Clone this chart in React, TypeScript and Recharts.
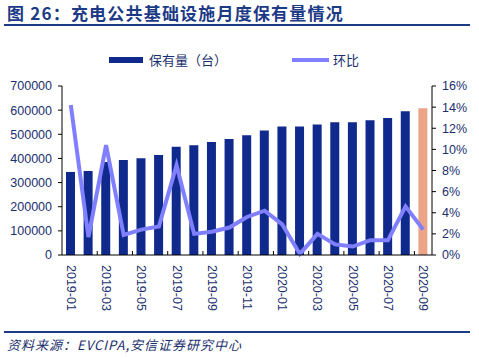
import React from "react";
import {
  ComposedChart,
  Bar,
  Line,
  XAxis,
  YAxis,
  Cell
} from "recharts";

const months = [
  "2019-01", "2019-02", "2019-03", "2019-04", "2019-05", "2019-06", "2019-07",
  "2019-08", "2019-09", "2019-10", "2019-11", "2019-12", "2020-01", "2020-02",
  "2020-03", "2020-04", "2020-05", "2020-06", "2020-07", "2020-08", "2020-09"
];

// 保有量（台）
const stock = [
  344000, 348000, 385000, 394000, 401000, 414000, 448000,
  455000, 468000, 480000, 496000, 516000, 532000, 532000,
  541000, 550000, 550000, 558000, 567000, 595000, 608000
];

// 环比 (%)
const mom = [
  14.2, 1.7, 10.4, 1.9, 2.4, 2.7, 8.5,
  2.0, 2.2, 2.6, 3.6, 4.2, 2.9, 0.1,
  2.0, 1.0, 0.8, 1.4, 1.4, 4.6, 2.4
];

const leftTicks = [0, 100000, 200000, 300000, 400000, 500000, 600000, 700000];
const rightTicks = [0, 2, 4, 6, 8, 10, 12, 14, 16];

const data = months.map((m, i) => ({ month: m, stock: stock[i], mom: mom[i] }));

const NAVY = "#1B2F6E";
const BAR = "#10298C";
const HIGHLIGHT = "#EBA487";
const LINE = "#7F7FFF";
const FONT = "'Liberation Sans', Arial, sans-serif";
const CJK = "'Noto Sans CJK SC', sans-serif";

const W = 479;
const H = 359;
const PLOT_LEFT = 62;
const PLOT_RIGHT = 432;
const BAND = (PLOT_RIGHT - PLOT_LEFT) / months.length;

function MonthTick(props: any) {
  const { x, y, payload } = props;
  const tickX = x + BAND * 1.5;
  return (
    <g>
      {tickX < PLOT_RIGHT - 2 && (
        <line x1={tickX} x2={tickX} y1={y} y2={y - 4} stroke="#000" strokeWidth={1} />
      )}
      <text
        transform={`translate(${x},${y + 10}) rotate(90)`}
        textAnchor="start"
        dominantBaseline="central"
        fill={NAVY}
        fontSize={12.5}
        fontFamily={FONT}
      >
        {payload.value}
      </text>
    </g>
  );
}

export default function App() {
  return (
    <div style={{ position: "absolute", left: 0, top: 0, width: W, height: H, background: "#fff", overflow: "hidden" }}>
      {/* title */}
      <div style={{ position: "absolute", left: 7, top: 2, fontFamily: CJK, fontWeight: 700, fontSize: 17, letterSpacing: 1.2, color: "#1C3A86", whiteSpace: "nowrap", lineHeight: "22px" }}>
        图 26：充电公共基础设施月度保有量情况
      </div>
      <div style={{ position: "absolute", left: 4, top: 24, width: 466, height: 1.5, background: "#1C3A86" }} />

      {/* legend */}
      <div style={{ position: "absolute", left: 109, top: 57, width: 34, height: 6, background: BAR }} />
      <div style={{ position: "absolute", left: 149, top: 51, fontFamily: CJK, fontSize: 13, color: NAVY, lineHeight: "18px", whiteSpace: "nowrap" }}>
        保有量（台）
      </div>
      <div style={{ position: "absolute", left: 292, top: 58, width: 37, height: 4, background: LINE }} />
      <div style={{ position: "absolute", left: 333, top: 51, fontFamily: CJK, fontSize: 13, color: NAVY, lineHeight: "18px", whiteSpace: "nowrap" }}>
        环比
      </div>

      <div style={{ position: "absolute", left: 0, top: 0 }}>
        <ComposedChart width={W} height={H} data={data} margin={{ top: 86, right: 0, left: 0, bottom: 0 }}>
          <XAxis
            dataKey="month"
            height={104}
            interval={1}
            tickSize={0}
            tickMargin={0}
            tickLine={false}
            axisLine={{ stroke: "#000" }}
            tick={<MonthTick />}
          />
          <YAxis
            yAxisId="left"
            width={62}
            domain={[0, 700000]}
            ticks={leftTicks}
            interval={0}
            tickSize={4}
            tickMargin={6}
            axisLine={{ stroke: "#000" }}
            tickLine={{ stroke: "#000" }}
            tick={{ fill: NAVY, fontSize: 12.5, fontFamily: FONT }}
          />
          <YAxis
            yAxisId="right"
            orientation="right"
            width={47}
            domain={[0, 16]}
            ticks={rightTicks}
            interval={0}
            tickSize={4}
            tickMargin={6}
            axisLine={{ stroke: "#000" }}
            tickLine={{ stroke: "#000" }}
            tickFormatter={(v: number) => `${v}%`}
            tick={{ fill: NAVY, fontSize: 12.5, fontFamily: FONT }}
          />
          <Bar yAxisId="left" dataKey="stock" barSize={9} isAnimationActive={false}>
            {data.map((d, i) => (
              <Cell key={d.month} fill={i === data.length - 1 ? HIGHLIGHT : BAR} />
            ))}
          </Bar>
          <Line
            yAxisId="right"
            dataKey="mom"
            stroke={LINE}
            strokeWidth={4}
            dot={false}
            isAnimationActive={false}
          />
        </ComposedChart>
      </div>

      {/* source */}
      <div style={{ position: "absolute", left: 4, top: 331, width: 466, height: 1.5, background: "#1C3A86" }} />
      <div style={{ position: "absolute", left: 7, top: 336, fontFamily: CJK, fontStyle: "italic", fontSize: 13, letterSpacing: 1, color: NAVY, lineHeight: "18px", whiteSpace: "nowrap" }}>
        资料来源：EVCIPA,安信证券研究中心
      </div>
    </div>
  );
}
